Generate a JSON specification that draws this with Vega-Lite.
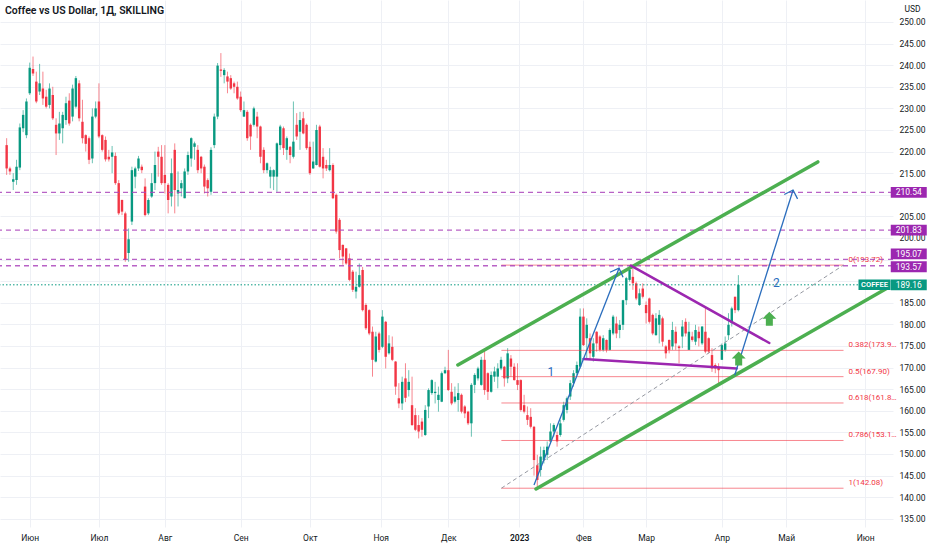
{
  "$schema": "https://vega.github.io/schema/vega-lite/v6.json",
  "width": 893,
  "height": 527,
  "autosize": "none",
  "padding": {"left": 0, "top": 0, "right": 39, "bottom": 23},
  "background": "#ffffff",
  "config": {
    "view": {"stroke": null},
    "font": "Roboto",
    "axis": {"labelFont": "Roboto", "titleFont": "Roboto", "labelOverlap": false}
  },
  "title": {
    "text": "Coffee vs US Dollar, 1Д, SKILLING",
    "anchor": "start",
    "frame": "group",
    "offset": -16,
    "dx": 5,
    "fontSize": 10.5,
    "fontWeight": 600,
    "color": "#131722"
  },
  "datasets": {
    "candles": [
      {"k":0,"o":221.5,"h":223.1,"l":214.6,"c":216.1},
      {"k":1,"o":216.1,"h":216.5,"l":214.6,"c":215.4},
      {"k":2,"o":213.0,"h":215.0,"l":211.1,"c":213.6},
      {"k":3,"o":213.4,"h":218.1,"l":212.3,"c":216.5},
      {"k":4,"o":216.3,"h":226.5,"l":215.7,"c":225.6},
      {"k":5,"o":225.4,"h":229.6,"l":224.5,"c":228.5},
      {"k":6,"o":223.8,"h":232.3,"l":223.1,"c":231.6},
      {"k":7,"o":233.5,"h":240.6,"l":233.1,"c":239.4},
      {"k":8,"o":239.1,"h":242.0,"l":237.5,"c":238.1},
      {"k":9,"o":236.2,"h":238.5,"l":231.2,"c":231.6},
      {"k":10,"o":233.9,"h":240.3,"l":233.1,"c":235.8},
      {"k":11,"o":234.6,"h":238.5,"l":230.8,"c":232.3},
      {"k":12,"o":232.7,"h":234.3,"l":230.0,"c":230.4},
      {"k":13,"o":230.8,"h":235.8,"l":230.0,"c":234.6},
      {"k":14,"o":233.1,"h":235.0,"l":227.3,"c":227.7},
      {"k":15,"o":226.2,"h":227.7,"l":219.2,"c":224.2},
      {"k":16,"o":224.2,"h":229.2,"l":222.7,"c":226.5},
      {"k":17,"o":225.4,"h":229.2,"l":221.9,"c":228.5},
      {"k":18,"o":227.3,"h":232.7,"l":226.2,"c":231.2},
      {"k":19,"o":231.8,"h":233.5,"l":226.0,"c":226.5},
      {"k":20,"o":228.1,"h":235.5,"l":227.0,"c":234.6},
      {"k":21,"o":230.4,"h":237.5,"l":230.0,"c":237.0},
      {"k":22,"o":235.8,"h":236.5,"l":227.0,"c":227.7},
      {"k":23,"o":226.9,"h":232.0,"l":221.9,"c":223.1},
      {"k":24,"o":223.8,"h":224.0,"l":220.0,"c":221.8},
      {"k":25,"o":223.1,"h":223.5,"l":217.1,"c":218.1},
      {"k":26,"o":218.4,"h":230.0,"l":217.3,"c":228.1},
      {"k":27,"o":228.1,"h":231.6,"l":227.7,"c":230.0},
      {"k":28,"o":231.6,"h":235.8,"l":223.1,"c":223.5},
      {"k":29,"o":223.8,"h":224.0,"l":220.0,"c":220.4},
      {"k":30,"o":222.7,"h":223.5,"l":217.7,"c":218.2},
      {"k":31,"o":218.8,"h":220.4,"l":217.7,"c":218.2},
      {"k":32,"o":218.8,"h":221.3,"l":215.0,"c":219.8},
      {"k":33,"o":219.0,"h":219.8,"l":212.3,"c":212.7},
      {"k":34,"o":212.7,"h":213.4,"l":205.3,"c":205.7},
      {"k":35,"o":208.8,"h":208.9,"l":205.3,"c":206.1},
      {"k":36,"o":205.7,"h":206.1,"l":194.5,"c":194.9},
      {"k":37,"o":196.5,"h":202.2,"l":194.5,"c":199.7},
      {"k":38,"o":203.8,"h":216.5,"l":203.0,"c":215.7},
      {"k":39,"o":214.2,"h":216.5,"l":211.5,"c":216.1},
      {"k":40,"o":216.1,"h":219.0,"l":215.5,"c":218.4},
      {"k":41,"o":216.5,"h":217.0,"l":215.0,"c":215.7},
      {"k":42,"o":211.9,"h":213.8,"l":205.0,"c":205.3},
      {"k":43,"o":205.7,"h":209.2,"l":205.3,"c":208.8},
      {"k":44,"o":209.6,"h":215.0,"l":209.3,"c":212.7},
      {"k":45,"o":212.7,"h":220.0,"l":211.1,"c":216.9},
      {"k":46,"o":220.0,"h":221.1,"l":214.2,"c":218.8},
      {"k":47,"o":218.8,"h":221.5,"l":212.3,"c":212.7},
      {"k":48,"o":214.6,"h":221.5,"l":210.3,"c":212.7},
      {"k":49,"o":212.3,"h":212.7,"l":205.7,"c":208.8},
      {"k":50,"o":209.6,"h":218.4,"l":207.3,"c":215.0},
      {"k":51,"o":220.4,"h":221.9,"l":205.7,"c":211.1},
      {"k":52,"o":210.3,"h":215.4,"l":207.3,"c":211.1},
      {"k":53,"o":211.5,"h":213.4,"l":209.6,"c":212.7},
      {"k":54,"o":209.2,"h":216.1,"l":209.2,"c":215.4},
      {"k":55,"o":215.4,"h":220.0,"l":214.6,"c":219.2},
      {"k":56,"o":218.4,"h":223.3,"l":216.5,"c":223.1},
      {"k":57,"o":221.1,"h":222.3,"l":218.1,"c":221.9},
      {"k":58,"o":220.4,"h":221.5,"l":215.0,"c":215.7},
      {"k":59,"o":218.8,"h":219.0,"l":215.0,"c":216.1},
      {"k":60,"o":216.5,"h":217.0,"l":210.3,"c":211.9},
      {"k":61,"o":213.4,"h":213.8,"l":209.6,"c":211.5},
      {"k":62,"o":210.7,"h":221.0,"l":210.0,"c":220.4},
      {"k":63,"o":221.5,"h":228.8,"l":220.8,"c":228.1},
      {"k":64,"o":228.1,"h":240.5,"l":227.5,"c":239.9},
      {"k":65,"o":239.0,"h":242.8,"l":237.3,"c":238.7},
      {"k":66,"o":237.7,"h":239.3,"l":235.8,"c":238.9},
      {"k":67,"o":237.4,"h":238.5,"l":233.5,"c":236.2},
      {"k":68,"o":237.0,"h":237.7,"l":234.3,"c":234.6},
      {"k":69,"o":235.8,"h":236.2,"l":233.5,"c":235.0},
      {"k":70,"o":235.0,"h":236.2,"l":232.0,"c":232.3},
      {"k":71,"o":232.7,"h":233.9,"l":229.2,"c":229.6},
      {"k":72,"o":228.1,"h":231.6,"l":228.0,"c":229.6},
      {"k":73,"o":229.2,"h":229.6,"l":222.5,"c":223.1},
      {"k":74,"o":226.2,"h":226.5,"l":220.4,"c":223.5},
      {"k":75,"o":226.2,"h":230.4,"l":225.8,"c":230.0},
      {"k":76,"o":228.1,"h":229.2,"l":223.1,"c":225.8},
      {"k":77,"o":225.8,"h":226.0,"l":217.3,"c":218.8},
      {"k":78,"o":220.4,"h":221.0,"l":215.0,"c":215.7},
      {"k":79,"o":215.7,"h":217.5,"l":215.0,"c":217.3},
      {"k":80,"o":214.2,"h":216.5,"l":211.5,"c":215.7},
      {"k":81,"o":214.2,"h":215.9,"l":211.1,"c":215.7},
      {"k":82,"o":214.2,"h":222.1,"l":210.7,"c":221.9},
      {"k":83,"o":221.5,"h":226.2,"l":220.4,"c":225.8},
      {"k":84,"o":225.4,"h":225.8,"l":219.2,"c":220.8},
      {"k":85,"o":220.4,"h":223.5,"l":218.1,"c":223.1},
      {"k":86,"o":221.1,"h":221.3,"l":217.3,"c":219.2},
      {"k":87,"o":218.8,"h":231.6,"l":218.4,"c":222.3},
      {"k":88,"o":226.2,"h":228.9,"l":222.7,"c":223.5},
      {"k":89,"o":224.6,"h":229.2,"l":220.4,"c":227.3},
      {"k":90,"o":227.7,"h":229.2,"l":224.0,"c":224.2},
      {"k":91,"o":226.2,"h":226.5,"l":220.4,"c":220.8},
      {"k":92,"o":221.1,"h":222.3,"l":214.6,"c":215.0},
      {"k":93,"o":216.1,"h":222.3,"l":216.0,"c":217.7},
      {"k":94,"o":216.9,"h":226.2,"l":216.8,"c":225.0},
      {"k":95,"o":225.8,"h":226.2,"l":216.3,"c":216.5},
      {"k":96,"o":218.8,"h":220.8,"l":213.8,"c":216.1},
      {"k":97,"o":216.9,"h":218.1,"l":215.5,"c":216.1},
      {"k":98,"o":215.7,"h":220.8,"l":215.4,"c":216.9},
      {"k":99,"o":216.9,"h":217.3,"l":209.0,"c":209.2},
      {"k":100,"o":210.0,"h":210.3,"l":201.0,"c":201.5},
      {"k":101,"o":204.2,"h":204.6,"l":195.3,"c":197.2},
      {"k":102,"o":198.4,"h":198.5,"l":193.8,"c":195.7},
      {"k":103,"o":197.6,"h":197.7,"l":193.8,"c":194.1},
      {"k":104,"o":195.3,"h":196.4,"l":190.0,"c":190.3},
      {"k":105,"o":192.2,"h":192.6,"l":187.5,"c":188.0},
      {"k":106,"o":187.6,"h":192.2,"l":186.0,"c":188.7},
      {"k":107,"o":188.7,"h":194.1,"l":188.5,"c":191.4},
      {"k":108,"o":192.6,"h":193.3,"l":183.0,"c":183.3},
      {"k":109,"o":184.5,"h":184.9,"l":178.7,"c":179.1},
      {"k":110,"o":183.3,"h":183.5,"l":177.5,"c":177.9},
      {"k":111,"o":178.3,"h":179.5,"l":167.9,"c":171.8},
      {"k":112,"o":171.4,"h":178.3,"l":171.2,"c":177.2},
      {"k":113,"o":177.9,"h":178.3,"l":173.5,"c":174.1},
      {"k":114,"o":174.8,"h":183.3,"l":174.5,"c":181.8},
      {"k":115,"o":180.6,"h":180.8,"l":169.8,"c":172.5},
      {"k":116,"o":173.3,"h":177.5,"l":173.0,"c":175.6},
      {"k":117,"o":174.8,"h":177.2,"l":171.5,"c":171.8},
      {"k":118,"o":171.4,"h":171.5,"l":163.7,"c":165.6},
      {"k":119,"o":162.9,"h":166.4,"l":160.6,"c":161.7},
      {"k":120,"o":161.7,"h":167.9,"l":160.2,"c":166.7},
      {"k":121,"o":167.5,"h":171.0,"l":162.0,"c":163.0},
      {"k":122,"o":164.8,"h":169.4,"l":163.3,"c":166.7},
      {"k":123,"o":161.3,"h":167.9,"l":156.5,"c":156.7},
      {"k":124,"o":159.0,"h":160.6,"l":155.3,"c":155.6},
      {"k":125,"o":156.7,"h":159.0,"l":153.6,"c":155.2},
      {"k":126,"o":157.5,"h":158.3,"l":154.0,"c":155.6},
      {"k":127,"o":154.4,"h":161.3,"l":154.2,"c":160.2},
      {"k":128,"o":161.0,"h":165.2,"l":158.3,"c":164.8},
      {"k":129,"o":164.1,"h":167.3,"l":163.7,"c":167.1},
      {"k":130,"o":164.1,"h":166.7,"l":161.7,"c":164.4},
      {"k":131,"o":162.5,"h":165.6,"l":159.8,"c":163.7},
      {"k":132,"o":162.1,"h":169.1,"l":162.0,"c":168.7},
      {"k":133,"o":168.7,"h":170.2,"l":168.5,"c":169.4},
      {"k":134,"o":169.4,"h":174.1,"l":164.6,"c":164.8},
      {"k":135,"o":164.4,"h":166.4,"l":161.3,"c":161.7},
      {"k":136,"o":162.1,"h":165.6,"l":161.7,"c":163.3},
      {"k":137,"o":162.5,"h":166.4,"l":159.8,"c":164.1},
      {"k":138,"o":163.7,"h":164.0,"l":159.4,"c":159.8},
      {"k":139,"o":161.0,"h":161.3,"l":158.3,"c":159.4},
      {"k":140,"o":159.8,"h":160.0,"l":156.7,"c":157.1},
      {"k":141,"o":157.1,"h":166.4,"l":154.0,"c":166.0},
      {"k":142,"o":166.0,"h":168.7,"l":164.1,"c":168.3},
      {"k":143,"o":167.5,"h":170.2,"l":167.0,"c":169.8},
      {"k":144,"o":166.0,"h":172.5,"l":165.8,"c":171.8},
      {"k":145,"o":171.8,"h":174.1,"l":163.7,"c":164.8},
      {"k":146,"o":168.7,"h":168.9,"l":162.5,"c":164.4},
      {"k":147,"o":164.4,"h":169.1,"l":164.2,"c":168.3},
      {"k":148,"o":167.9,"h":170.2,"l":166.7,"c":169.1},
      {"k":149,"o":167.9,"h":171.0,"l":165.2,"c":169.8},
      {"k":150,"o":169.8,"h":172.5,"l":169.4,"c":171.8},
      {"k":151,"o":170.2,"h":170.4,"l":165.6,"c":167.5},
      {"k":152,"o":167.5,"h":174.5,"l":166.4,"c":173.3},
      {"k":153,"o":172.1,"h":172.9,"l":167.9,"c":170.2},
      {"k":154,"o":170.2,"h":171.0,"l":167.0,"c":167.1},
      {"k":155,"o":167.1,"h":171.0,"l":164.8,"c":166.0},
      {"k":156,"o":167.1,"h":167.3,"l":159.8,"c":160.2},
      {"k":157,"o":161.3,"h":163.7,"l":159.4,"c":159.8},
      {"k":158,"o":159.0,"h":161.0,"l":156.7,"c":157.9},
      {"k":159,"o":158.6,"h":160.6,"l":155.9,"c":156.3},
      {"k":160,"o":156.3,"h":156.5,"l":145.0,"c":148.6},
      {"k":161,"o":147.4,"h":149.8,"l":142.08,"c":144.0},
      {"k":162,"o":146.3,"h":151.7,"l":144.8,"c":149.4},
      {"k":163,"o":148.6,"h":151.7,"l":147.8,"c":150.9},
      {"k":164,"o":149.8,"h":152.9,"l":148.6,"c":151.7},
      {"k":165,"o":152.9,"h":157.1,"l":152.5,"c":155.2},
      {"k":166,"o":155.2,"h":157.1,"l":154.0,"c":156.7},
      {"k":167,"o":154.4,"h":155.2,"l":151.7,"c":152.9},
      {"k":168,"o":154.4,"h":157.9,"l":154.0,"c":157.1},
      {"k":169,"o":157.9,"h":162.1,"l":157.5,"c":161.3},
      {"k":170,"o":160.2,"h":163.3,"l":159.4,"c":162.9},
      {"k":171,"o":163.3,"h":167.1,"l":162.5,"c":166.4},
      {"k":172,"o":166.4,"h":169.4,"l":165.6,"c":168.7},
      {"k":173,"o":168.7,"h":171.4,"l":168.3,"c":170.6},
      {"k":174,"o":170.2,"h":183.7,"l":169.8,"c":181.8},
      {"k":175,"o":181.8,"h":183.7,"l":175.0,"c":175.2},
      {"k":176,"o":176.8,"h":181.4,"l":171.8,"c":179.9},
      {"k":177,"o":176.8,"h":177.9,"l":171.8,"c":173.3},
      {"k":178,"o":172.5,"h":176.8,"l":171.4,"c":175.6},
      {"k":179,"o":178.3,"h":178.4,"l":173.7,"c":175.6},
      {"k":180,"o":177.2,"h":177.5,"l":173.7,"c":174.1},
      {"k":181,"o":174.1,"h":177.5,"l":173.7,"c":176.8},
      {"k":182,"o":176.4,"h":176.5,"l":173.5,"c":174.1},
      {"k":183,"o":174.1,"h":179.1,"l":174.0,"c":178.7},
      {"k":184,"o":177.9,"h":182.2,"l":177.5,"c":181.8},
      {"k":185,"o":180.2,"h":181.8,"l":176.8,"c":177.9},
      {"k":186,"o":178.7,"h":181.0,"l":176.8,"c":179.9},
      {"k":187,"o":179.9,"h":185.7,"l":178.7,"c":185.6},
      {"k":188,"o":185.6,"h":191.0,"l":184.5,"c":190.7},
      {"k":189,"o":190.3,"h":193.72,"l":189.9,"c":192.6},
      {"k":190,"o":191.0,"h":193.0,"l":188.0,"c":189.5},
      {"k":191,"o":189.5,"h":189.9,"l":185.6,"c":186.0},
      {"k":192,"o":184.5,"h":188.3,"l":184.3,"c":187.2},
      {"k":193,"o":188.3,"h":189.5,"l":186.0,"c":186.4},
      {"k":194,"o":184.5,"h":185.3,"l":180.2,"c":182.6},
      {"k":195,"o":186.0,"h":186.2,"l":180.2,"c":180.6},
      {"k":196,"o":182.2,"h":182.5,"l":177.5,"c":177.9},
      {"k":197,"o":177.5,"h":182.6,"l":177.4,"c":181.4},
      {"k":198,"o":179.9,"h":183.3,"l":175.6,"c":182.2},
      {"k":199,"o":181.4,"h":181.8,"l":174.9,"c":176.0},
      {"k":200,"o":174.9,"h":175.2,"l":172.1,"c":173.3},
      {"k":201,"o":176.4,"h":176.5,"l":173.3,"c":174.1},
      {"k":202,"o":174.9,"h":180.6,"l":174.1,"c":178.7},
      {"k":203,"o":178.3,"h":179.5,"l":174.1,"c":175.6},
      {"k":204,"o":174.9,"h":175.2,"l":171.0,"c":174.5},
      {"k":205,"o":177.2,"h":181.0,"l":174.5,"c":179.5},
      {"k":206,"o":180.6,"h":181.4,"l":177.2,"c":177.9},
      {"k":207,"o":174.1,"h":180.6,"l":174.1,"c":178.3},
      {"k":208,"o":177.2,"h":178.3,"l":176.0,"c":176.4},
      {"k":209,"o":176.0,"h":179.9,"l":175.2,"c":178.7},
      {"k":210,"o":178.3,"h":179.5,"l":174.9,"c":176.8},
      {"k":211,"o":175.6,"h":179.6,"l":175.2,"c":179.5},
      {"k":212,"o":178.3,"h":184.0,"l":173.3,"c":173.7},
      {"k":213,"o":176.8,"h":177.0,"l":173.3,"c":173.7},
      {"k":214,"o":172.9,"h":174.5,"l":169.0,"c":169.8},
      {"k":215,"o":170.6,"h":171.0,"l":168.7,"c":169.8},
      {"k":216,"o":170.2,"h":171.0,"l":166.0,"c":169.4},
      {"k":217,"o":171.8,"h":175.6,"l":171.8,"c":175.2},
      {"k":218,"o":174.1,"h":177.2,"l":173.7,"c":175.6},
      {"k":219,"o":177.5,"h":182.6,"l":176.4,"c":179.9},
      {"k":220,"o":180.3,"h":184.1,"l":179.5,"c":183.7},
      {"k":221,"o":186.4,"h":186.4,"l":182.6,"c":183.3},
      {"k":222,"o":183.3,"h":191.4,"l":183.0,"c":189.16}
    ],
    "fib": [
      {"lab":"0(193.72)","p":193.72},
      {"lab":"0.382(173.99)","p":173.99},
      {"lab":"0.5(167.90)","p":167.9},
      {"lab":"0.618(161.81)","p":161.81},
      {"lab":"0.786(153.13)","p":153.13},
      {"lab":"1(142.08)","p":142.08}
    ],
    "levels": [
      {"p":210.54},
      {"p":201.83},
      {"p":195.07},
      {"p":193.57}
    ],
    "last": [{"p":189.16,"sym":"COFFEE"}],
    "lines": [
      {"g":"diag","id":"d","k":150.1,"p":142.08},
      {"g":"diag","id":"d","k":253.9,"p":193.72},
      {"g":"green","id":"u","k":136.9,"p":170.6},
      {"g":"green","id":"u","k":246.1,"p":217.6},
      {"g":"green","id":"l","k":160.6,"p":141.9},
      {"g":"green","id":"l","k":267.2,"p":188.4},
      {"g":"purple","id":"u","k":189.4,"p":193.6},
      {"g":"purple","id":"u","k":231.4,"p":175.7},
      {"g":"purple","id":"l","k":175.0,"p":172.0},
      {"g":"purple","id":"l","k":221.5,"p":169.8},
      {"g":"blue","id":"a1","k":160.0,"p":142.8},
      {"g":"blue","id":"a1","k":185.8,"p":193.0},
      {"g":"blue","id":"a2","k":220.9,"p":168.3},
      {"g":"blue","id":"a2","k":238.6,"p":211.1}
    ],
    "tips": [
      {"id":"a1","k":185.8,"p":193.0},
      {"id":"a2","k":238.6,"p":211.1}
    ],
    "ups": [
      {"k":231.4,"p":181.3},
      {"k":222.1,"p":172.1}
    ],
    "waves": [
      {"t":"1","k":165.1,"p":169.0},
      {"t":"2","k":233.5,"p":189.6}
    ]
  },
  "layer": [
    {
      "data": {"name": "candles"},
      "mark": {"type": "rule", "strokeWidth": 1, "opacity": 0.6},
      "encoding": {
        "x": {
          "field": "k",
          "type": "quantitative",
          "scale": {"domain": [-0.5, 267.4], "nice": false, "zero": false},
          "axis": {
            "title": null,
            "values": [7, 28, 48, 71, 92, 113.5, 134, 155.5, 175, 194, 217, 236.5, 260.5],
            "tickCount": 40,
            "labelExpr": "datum.value < 10 ? 'Июн' : datum.value < 30 ? 'Июл' : datum.value < 50 ? 'Авг' : datum.value < 80 ? 'Сен' : datum.value < 100 ? 'Окт' : datum.value < 120 ? 'Ноя' : datum.value < 140 ? 'Дек' : datum.value < 160 ? '2023' : datum.value < 180 ? 'Фев' : datum.value < 200 ? 'Мар' : datum.value < 220 ? 'Апр' : datum.value < 240 ? 'Май' : 'Июн'",
            "labelFontWeight": {"condition": {"test": "datum.value > 150 && datum.value < 160", "value": 600}, "value": "normal"},
            "grid": true,
            "gridColor": "#eef0f5",
            "domain": false,
            "ticks": false,
            "labelFontSize": 8.5,
            "labelColor": "#131722",
            "labelPadding": 6,
            "labelFlush": false,
            "labelOverlap": false
          }
        },
        "y": {
          "field": "l",
          "type": "quantitative",
          "scale": {"domain": [133.1, 255.09], "nice": false, "zero": false},
          "axis": {
            "orient": "right",
            "values": [135, 140, 145, 150, 155, 160, 165, 170, 175, 180, 185, 190, 195, 200, 205, 210, 215, 220, 225, 230, 235, 240, 245, 250],
            "tickCount": 40,
            "labelExpr": "datum.value == 210 || datum.value == 195 || datum.value == 190 ? '' : format(datum.value, '.2f')",
            "grid": true,
            "gridColor": "#eef0f5",
            "domain": false,
            "ticks": false,
            "labelPadding": 6,
            "labelFontSize": 8.5,
            "labelColor": "#131722",
            "labelOverlap": false,
            "labelFlush": false,
            "labelBound": false,
            "title": "USD",
            "titleAngle": 0,
            "titleAlign": "left",
            "titleBaseline": "middle",
            "titleX": 11,
            "titleY": 8,
            "titleFontSize": 8.5,
            "titleFontWeight": "normal",
            "titleColor": "#131722"
          }
        },
        "y2": {"field": "h"},
        "color": {"condition": {"test": "datum.c >= datum.o", "value": "#089981"}, "value": "#f23645"}
      }
    },
    {
      "data": {"name": "candles"},
      "mark": {"type": "bar", "size": 2.4},
      "encoding": {
        "x": {"field": "k", "type": "quantitative", "scale": {"domain": [-0.5, 267.4], "nice": false, "zero": false}},
        "y": {"field": "o", "type": "quantitative", "scale": {"domain": [133.1, 255.09], "nice": false, "zero": false}},
        "y2": {"field": "c"},
        "color": {"condition": {"test": "datum.c >= datum.o", "value": "#089981"}, "value": "#f23645"}
      }
    },
    {
      "data": {"name": "fib"},
      "mark": {"type": "rule", "color": "#f23645", "opacity": 0.6, "strokeWidth": 1},
      "encoding": {
        "x": {"datum": 150.1, "type": "quantitative"},
        "x2": {"datum": 253.9},
        "y": {"field": "p", "type": "quantitative", "scale": {"domain": [133.1, 255.09], "nice": false, "zero": false}}
      }
    },
    {
      "data": {"name": "fib"},
      "mark": {"type": "text", "align": "left", "baseline": "bottom", "dy": -1, "fontSize": 8, "color": "#f23645", "limit": 50, "ellipsis": ""},
      "encoding": {
        "x": {"datum": 255.4, "type": "quantitative"},
        "y": {"field": "p", "type": "quantitative", "scale": {"domain": [133.1, 255.09], "nice": false, "zero": false}},
        "text": {"field": "lab"}
      }
    },
    {
      "data": {"name": "lines"},
      "transform": [{"filter": "datum.g == 'diag'"}],
      "mark": {"type": "line", "color": "#9598a1", "strokeWidth": 1, "strokeDash": [4, 3]},
      "encoding": {
        "x": {"field": "k", "type": "quantitative", "scale": {"domain": [-0.5, 267.4], "nice": false, "zero": false}},
        "y": {"field": "p", "type": "quantitative", "scale": {"domain": [133.1, 255.09], "nice": false, "zero": false}},
        "detail": {"field": "id"}
      }
    },
    {
      "data": {"name": "levels"},
      "mark": {"type": "rule", "color": "#ab47bc", "opacity": 0.85, "strokeWidth": 1.3, "strokeDash": [5, 4]},
      "encoding": {
        "y": {"field": "p", "type": "quantitative", "scale": {"domain": [133.1, 255.09], "nice": false, "zero": false}}
      }
    },
    {
      "data": {"name": "last"},
      "mark": {"type": "rule", "color": "#089981", "strokeWidth": 1, "strokeDash": [1.5, 2]},
      "encoding": {
        "y": {"field": "p", "type": "quantitative", "scale": {"domain": [133.1, 255.09], "nice": false, "zero": false}}
      }
    },
    {
      "data": {"name": "lines"},
      "transform": [{"filter": "datum.g == 'green'"}],
      "mark": {"type": "line", "color": "#4caf50", "strokeWidth": 3.5, "strokeCap": "round"},
      "encoding": {
        "x": {"field": "k", "type": "quantitative", "scale": {"domain": [-0.5, 267.4], "nice": false, "zero": false}},
        "y": {"field": "p", "type": "quantitative", "scale": {"domain": [133.1, 255.09], "nice": false, "zero": false}},
        "detail": {"field": "id"}
      }
    },
    {
      "data": {"name": "lines"},
      "transform": [{"filter": "datum.g == 'purple'"}],
      "mark": {"type": "line", "color": "#9c27b0", "strokeWidth": 2.5, "strokeCap": "round"},
      "encoding": {
        "x": {"field": "k", "type": "quantitative", "scale": {"domain": [-0.5, 267.4], "nice": false, "zero": false}},
        "y": {"field": "p", "type": "quantitative", "scale": {"domain": [133.1, 255.09], "nice": false, "zero": false}},
        "detail": {"field": "id"}
      }
    },
    {
      "data": {"name": "lines"},
      "transform": [{"filter": "datum.g == 'blue'"}],
      "mark": {"type": "line", "color": "#2a6dbd", "strokeWidth": 1.3},
      "encoding": {
        "x": {"field": "k", "type": "quantitative", "scale": {"domain": [-0.5, 267.4], "nice": false, "zero": false}},
        "y": {"field": "p", "type": "quantitative", "scale": {"domain": [133.1, 255.09], "nice": false, "zero": false}},
        "detail": {"field": "id"}
      }
    },
    {
      "data": {"name": "tips"},
      "transform": [{"filter": "datum.id == 'a1'"}],
      "mark": {"type": "point", "shape": "M-0.7,0.7L0,0L0.7,0.7", "filled": false, "size": 400, "angle": 21, "color": "#2a6dbd", "strokeWidth": 1.3, "opacity": 1},
      "encoding": {
        "x": {"field": "k", "type": "quantitative", "scale": {"domain": [-0.5, 267.4], "nice": false, "zero": false}},
        "y": {"field": "p", "type": "quantitative", "scale": {"domain": [133.1, 255.09], "nice": false, "zero": false}}
      }
    },
    {
      "data": {"name": "tips"},
      "transform": [{"filter": "datum.id == 'a2'"}],
      "mark": {"type": "point", "shape": "M-0.7,0.7L0,0L0.7,0.7", "filled": false, "size": 400, "angle": 18, "color": "#2a6dbd", "strokeWidth": 1.3, "opacity": 1},
      "encoding": {
        "x": {"field": "k", "type": "quantitative", "scale": {"domain": [-0.5, 267.4], "nice": false, "zero": false}},
        "y": {"field": "p", "type": "quantitative", "scale": {"domain": [133.1, 255.09], "nice": false, "zero": false}}
      }
    },
    {
      "data": {"name": "ups"},
      "mark": {"type": "point", "shape": "M0,-1L1,0L0.5,0L0.5,1L-0.5,1L-0.5,0L-1,0Z", "filled": true, "size": 196, "color": "#4caf50", "opacity": 1, "strokeWidth": 0},
      "encoding": {
        "x": {"field": "k", "type": "quantitative", "scale": {"domain": [-0.5, 267.4], "nice": false, "zero": false}},
        "y": {"field": "p", "type": "quantitative", "scale": {"domain": [133.1, 255.09], "nice": false, "zero": false}}
      }
    },
    {
      "data": {"name": "waves"},
      "mark": {"type": "text", "fontSize": 12, "color": "#2a6dbd"},
      "encoding": {
        "x": {"field": "k", "type": "quantitative", "scale": {"domain": [-0.5, 267.4], "nice": false, "zero": false}},
        "y": {"field": "p", "type": "quantitative", "scale": {"domain": [133.1, 255.09], "nice": false, "zero": false}},
        "text": {"field": "t"}
      }
    },
    {
      "data": {"name": "levels"},
      "transform": [{"filter": "datum.p != 195.07 && datum.p != 193.57"}],
      "mark": {"type": "point", "shape": "M-1,-0.3L1,-0.3L1,0.3L-1,0.3Z", "filled": true, "size": 1296, "color": "#9c27b0", "opacity": 1, "strokeWidth": 0},
      "encoding": {
        "x": {"datum": 273.7, "type": "quantitative"},
        "y": {"field": "p", "type": "quantitative", "scale": {"domain": [133.1, 255.09], "nice": false, "zero": false}}
      }
    },
    {
      "data": {"name": "levels"},
      "transform": [{"filter": "datum.p != 195.07 && datum.p != 193.57"}],
      "mark": {"type": "text", "fontSize": 8.5, "color": "#ffffff"},
      "encoding": {
        "x": {"datum": 273.7, "type": "quantitative"},
        "y": {"field": "p", "type": "quantitative", "scale": {"domain": [133.1, 255.09], "nice": false, "zero": false}},
        "text": {"field": "p", "format": ".2f"}
      }
    },
    {
      "data": {"name": "levels"},
      "transform": [{"filter": "datum.p == 195.07"}],
      "mark": {"type": "point", "shape": "M-1,-0.3L1,-0.3L1,0.3L-1,0.3Z", "filled": true, "size": 1296, "color": "#9c27b0", "opacity": 1, "strokeWidth": 0, "yOffset": -5.5},
      "encoding": {
        "x": {"datum": 273.7, "type": "quantitative"},
        "y": {"field": "p", "type": "quantitative", "scale": {"domain": [133.1, 255.09], "nice": false, "zero": false}}
      }
    },
    {
      "data": {"name": "levels"},
      "transform": [{"filter": "datum.p == 195.07"}],
      "mark": {"type": "text", "fontSize": 8.5, "color": "#ffffff", "yOffset": -5.5},
      "encoding": {
        "x": {"datum": 273.7, "type": "quantitative"},
        "y": {"field": "p", "type": "quantitative", "scale": {"domain": [133.1, 255.09], "nice": false, "zero": false}},
        "text": {"field": "p", "format": ".2f"}
      }
    },
    {
      "data": {"name": "levels"},
      "transform": [{"filter": "datum.p == 193.57"}],
      "mark": {"type": "point", "shape": "M-1,-0.3L1,-0.3L1,0.3L-1,0.3Z", "filled": true, "size": 1296, "color": "#9c27b0", "opacity": 1, "strokeWidth": 0, "yOffset": 1},
      "encoding": {
        "x": {"datum": 273.7, "type": "quantitative"},
        "y": {"field": "p", "type": "quantitative", "scale": {"domain": [133.1, 255.09], "nice": false, "zero": false}}
      }
    },
    {
      "data": {"name": "levels"},
      "transform": [{"filter": "datum.p == 193.57"}],
      "mark": {"type": "text", "fontSize": 8.5, "color": "#ffffff", "yOffset": 1},
      "encoding": {
        "x": {"datum": 273.7, "type": "quantitative"},
        "y": {"field": "p", "type": "quantitative", "scale": {"domain": [133.1, 255.09], "nice": false, "zero": false}},
        "text": {"field": "p", "format": ".2f"}
      }
    },
    {
      "data": {"name": "last"},
      "mark": {"type": "point", "shape": "M-1,-0.33L1,-0.33L1,0.33L-1,0.33Z", "filled": true, "size": 1024, "color": "#089981", "opacity": 1, "strokeWidth": 0},
      "encoding": {
        "x": {"datum": 263.3, "type": "quantitative"},
        "y": {"field": "p", "type": "quantitative", "scale": {"domain": [133.1, 255.09], "nice": false, "zero": false}}
      }
    },
    {
      "data": {"name": "last"},
      "mark": {"type": "text", "fontSize": 7.5, "fontWeight": 600, "color": "#ffffff"},
      "encoding": {
        "x": {"datum": 263.3, "type": "quantitative"},
        "y": {"field": "p", "type": "quantitative", "scale": {"domain": [133.1, 255.09], "nice": false, "zero": false}},
        "text": {"field": "sym"}
      }
    },
    {
      "data": {"name": "last"},
      "mark": {"type": "point", "shape": "M-1,-0.3L1,-0.3L1,0.3L-1,0.3Z", "filled": true, "size": 1296, "color": "#089981", "opacity": 1, "strokeWidth": 0},
      "encoding": {
        "x": {"datum": 273.7, "type": "quantitative"},
        "y": {"field": "p", "type": "quantitative", "scale": {"domain": [133.1, 255.09], "nice": false, "zero": false}}
      }
    },
    {
      "data": {"name": "last"},
      "mark": {"type": "text", "fontSize": 8.5, "color": "#ffffff"},
      "encoding": {
        "x": {"datum": 273.7, "type": "quantitative"},
        "y": {"field": "p", "type": "quantitative", "scale": {"domain": [133.1, 255.09], "nice": false, "zero": false}},
        "text": {"field": "p", "format": ".2f"}
      }
    }
  ]
}
